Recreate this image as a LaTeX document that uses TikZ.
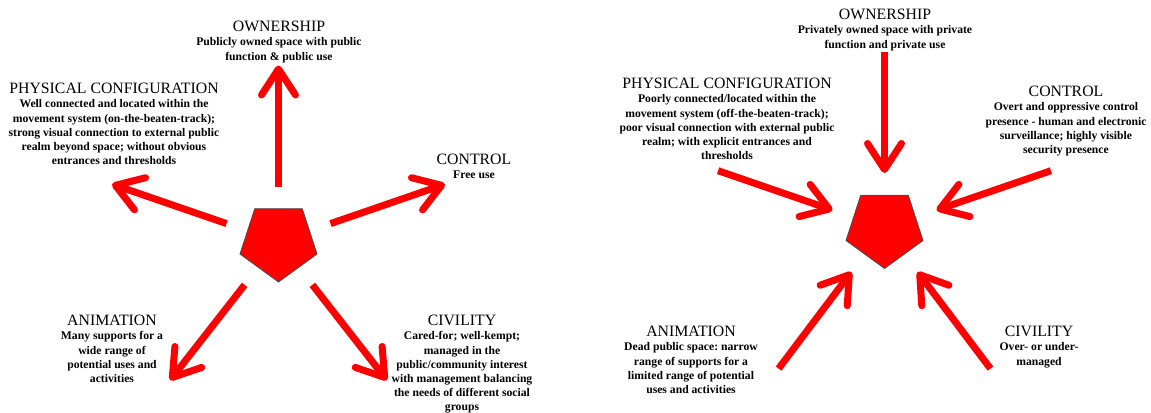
\documentclass[tikz,border=0pt]{standalone}
\usepackage{fontspec}
\setmainfont{Liberation Serif}
\usetikzlibrary{shapes.geometric,arrows.meta}
\frenchspacing
\newcommand{\lblhead}[1]{{\fontsize{11.85}{10.6}\selectfont\mdseries #1}}
\tikzset{
  pent/.style={regular polygon, regular polygon sides=5, shape border rotate=180,
    minimum size=60.75pt, inner sep=0pt, fill=red, draw=black!70, line width=0.6pt},
  arr/.style={red, line width=5.25pt, -{Straight Barb[length=19.5pt, width=25.5pt, round]}},
  lbl/.style={anchor=north, align=center, inner sep=0pt,
    font=\fontsize{8.75}{10.6}\selectfont\bfseries},
}
\begin{document}
\begin{tikzpicture}[x=0.75pt, y=-0.75pt]
  \useasboundingbox (0,0) rectangle (1151,412);
  % public space (left)
  \node[pent] (L) at (278.5,241.5) {};
  \foreach \n/\a in {own/270, phy/199, con/341, ani/128, civ/52}{
    \path (L) ++(\a:55) coordinate (L\n-in) ++(\a:121) coordinate (L\n-out);
    \draw[arr] (L\n-in) -- (L\n-out);
  }
  \node[lbl] (Lown) at (279,21) {\lblhead{OWNERSHIP}\\Publicly owned space with public\\function \& public use};
  \node[lbl] (Lphy) at (114,83) {\lblhead{PHYSICAL CONFIGURATION}\\Well connected and located within the\\movement system (on-the-beaten-track);\\strong visual connection to external public\\realm beyond space; without obvious\\entrances and thresholds};
  \node[lbl] (Lcon) at (474,154) {\lblhead{CONTROL}\\Free use};
  \node[lbl] (Lani) at (112,315) {\lblhead{ANIMATION}\\Many supports for a\\wide range of\\potential uses and\\activities};
  \node[lbl] (Lciv) at (462,315) {\lblhead{CIVILITY}\\Cared-for; well-kempt;\\managed in the\\public/community interest\\with management balancing\\the needs of different social\\groups};
  % private space (right)
  \node[pent] (R) at (884.5,228) {};
  \foreach \n/\a in {own/270, phy/199, con/341, ani/127, civ/53}{
    \path (R) ++(\a:55) coordinate (R\n-in) ++(\a:121) coordinate (R\n-out);
    \draw[arr] (R\n-out) -- (R\n-in);
  }
  \node[lbl] (Rown) at (885,9) {\lblhead{OWNERSHIP}\\Privately owned space with private\\function and private use};
  \node[lbl] (Rphy) at (727,78) {\lblhead{PHYSICAL CONFIGURATION}\\Poorly connected/located within the\\movement system (off-the-beaten-track);\\poor visual connection with external public\\realm; with explicit entrances and\\thresholds};
  \node[lbl] (Rcon) at (1066,86) {\lblhead{CONTROL}\\Overt and oppressive control\\presence - human and electronic\\surveillance; highly visible\\security presence};
  \node[lbl] (Rani) at (691,326) {\lblhead{ANIMATION}\\Dead public space: narrow\\range of supports for a\\limited range of potential\\uses and activities};
  \node[lbl] (Rciv) at (1039,326) {\lblhead{CIVILITY}\\Over- or under-\\managed};
\end{tikzpicture}
\end{document}
